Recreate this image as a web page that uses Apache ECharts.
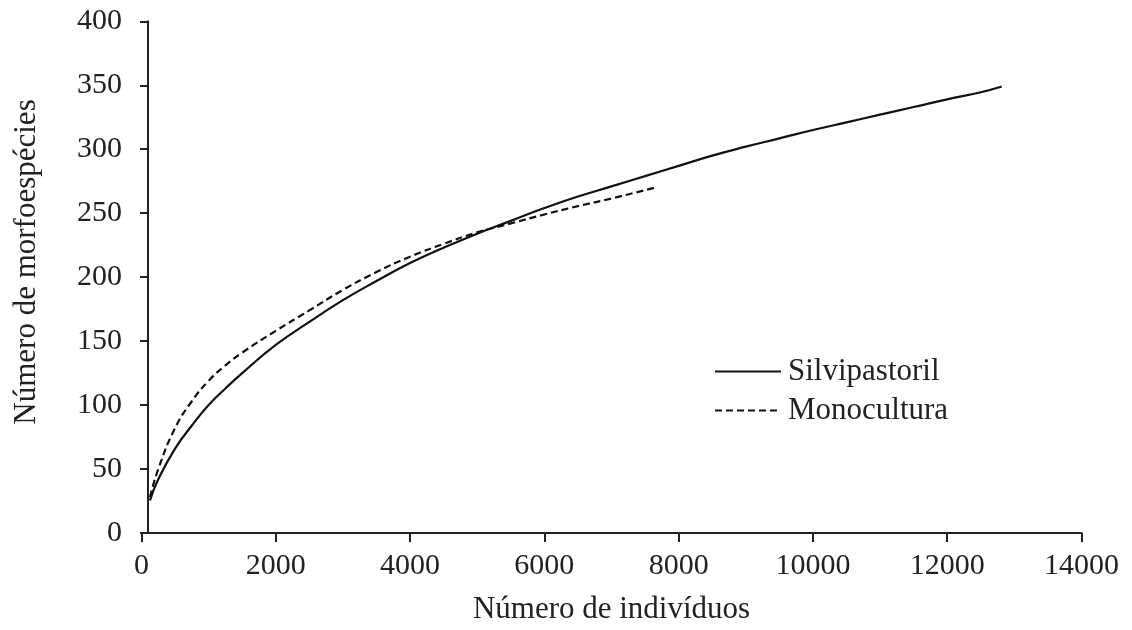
<!DOCTYPE html>
<html>
<head>
<meta charset="utf-8">
<script src="https://cdn.jsdelivr.net/npm/echarts@6/dist/echarts.min.js"></script>
<style>
html,body{margin:0;padding:0;background:#fff;}
#chart{width:1132px;height:630px;}
</style>
</head>
<body>
<div id="chart"></div>
<script>
// Data
const silviX = [126, 250, 500, 750, 1000, 1250, 1500, 2000, 2500, 3000, 3500, 4000, 4500, 5000, 5500, 6000, 6500, 7000, 7500, 8000, 8500, 9000, 9500, 10000, 10500, 11000, 11500, 12000, 12500, 12812];
const silviY = [25.5, 42, 66, 84, 100, 113, 125, 147, 165, 182, 197, 211, 223, 234, 244, 254, 263, 271, 279, 287, 295, 302, 308.5, 315, 321, 327, 333, 339, 344.5, 349];
const monoX = [126, 250, 500, 750, 1000, 1250, 1500, 2000, 2500, 3000, 3500, 4000, 4500, 5000, 5500, 6000, 6500, 7000, 7648];
const monoY = [28, 50, 82, 103, 119, 131, 141, 158, 174, 190, 204, 216, 226, 235, 242, 249, 255.5, 261.5, 270];
const seriesNames = ['Silvipastoril', 'Monocultura'];
const xTitle = 'Número de indivíduos';
const yTitle = 'Número de morfoespécies';

const toPairs = (xs, ys) => xs.map((x, i) => [x, ys[i]]);
const FONT = '"Liberation Serif", "Times New Roman", serif';
const TXT = '#222';

const chart = echarts.init(document.getElementById('chart'));
chart.setOption({
  animation: false,
  backgroundColor: '#fff',
  textStyle: { fontFamily: FONT, color: TXT },
  grid: { left: 141.5, right: 50.5, top: 21.3, bottom: 95.3 },
  xAxis: {
    type: 'value', min: 0, max: 14000, interval: 2000,
    name: xTitle, nameLocation: 'middle', nameGap: 61,
    nameTextStyle: { fontFamily: FONT, fontSize: 31, color: TXT },
    axisLine: { lineStyle: { color: '#222', width: 2 } },
    axisTick: { length: 9, lineStyle: { color: '#222', width: 2 } },
    axisLabel: { fontFamily: FONT, fontSize: 30, color: TXT, margin: 18, formatter: v => String(v) },
    splitLine: { show: false }
  },
  yAxis: {
    type: 'value', min: 0, max: 400, interval: 50, offset: -6.5,
    axisLine: { show: true, lineStyle: { color: '#222', width: 2 } },
    axisTick: { show: true, length: 8, lineStyle: { color: '#222', width: 2 } },
    axisLabel: { fontFamily: FONT, fontSize: 30, color: TXT, margin: 26 },
    splitLine: { show: false }
  },
  legend: {
    orient: 'vertical', left: 714, top: 356, padding: 0,
    itemWidth: 66, itemHeight: 14, itemGap: 8,
    itemStyle: { opacity: 0 },
    textStyle: { fontFamily: FONT, fontSize: 31, color: TXT, lineHeight: 31, padding: [0, 0, 0, 2] },
    data: seriesNames
  },
  graphic: [{
    type: 'text', x: 27, y: 262, rotation: Math.PI / 2,
    style: { text: yTitle, font: '31px ' + FONT, fill: TXT, textAlign: 'center', textVerticalAlign: 'middle' }
  }],
  series: [
    {
      name: seriesNames[0], type: 'line', smooth: true, symbol: 'none',
      lineStyle: { color: '#111', width: 2.2, type: 'solid' },
      itemStyle: { color: '#111' },
      data: toPairs(silviX, silviY)
    },
    {
      name: seriesNames[1], type: 'line', smooth: true, symbol: 'none',
      lineStyle: { color: '#111', width: 2.2, type: [7, 4] },
      itemStyle: { color: '#111' },
      data: toPairs(monoX, monoY)
    }
  ]
});
</script>
</body>
</html>
